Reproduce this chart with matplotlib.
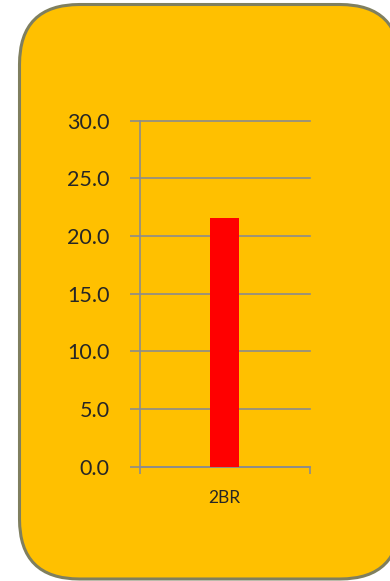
import matplotlib
matplotlib.use("Agg")
import matplotlib.pyplot as plt
from matplotlib.patches import FancyBboxPatch

categories = ["2BR"]
values = [21.6]
yticks = [0, 5, 10, 15, 20, 25, 30]

W, H, DPI = 390, 581, 100
fig = plt.figure(figsize=(W / DPI, H / DPI), dpi=DPI)
fig.patch.set_facecolor("white")

# background axes in pixel units holding the rounded card
bg = fig.add_axes([0, 0, 1, 1], zorder=-5)
bg.set_xlim(0, W)
bg.set_ylim(0, H)
bg.axis("off")
card_l, card_b, card_r, card_t = 19.5, 2.0, 400.0, 576.5
card = FancyBboxPatch(
    (card_l, card_b), card_r - card_l, card_t - card_b,
    boxstyle="round,pad=0,rounding_size=60",
    facecolor="#FFC000", edgecolor="#7F7F5F", linewidth=2.2)
bg.add_patch(card)

ax = fig.add_axes([140 / W, 1 - 466.7 / H, (309.5 - 140) / W, (466.7 - 120.7) / H], zorder=1)
ax.set_facecolor("none")

x = list(range(len(categories)))
ax.bar(x, values, width=0.171, color="#FF0000", zorder=3)

ax.set_xlim(-0.5, len(categories) - 0.5)
ax.set_ylim(0, 30)
ax.set_yticks(yticks)
ax.set_yticklabels([f"{v:.1f}" for v in yticks])

grid_color = "#8C8C8C"
ax.yaxis.grid(True, color=grid_color, linewidth=1.2, zorder=1)
ax.set_axisbelow(True)
for gl in ax.get_ygridlines():
    gl.set_clip_on(False)

for s in ("top", "right"):
    ax.spines[s].set_visible(False)
for s in ("left", "bottom"):
    ax.spines[s].set_color(grid_color)
    ax.spines[s].set_linewidth(1.2)

# category boundaries marked by downward ticks on the x axis
ax.set_xticks([-0.5, len(categories) - 0.5], minor=False)
ax.set_xticklabels([])
ax.set_xticks(x, minor=True)
ax.set_xticklabels(categories, minor=True)
ax.tick_params(axis="x", which="major", length=5, width=1.2, color=grid_color, direction="out")
ax.tick_params(axis="x", which="minor", length=0, pad=17, labelsize=12.5, labelcolor="#262626")
ax.tick_params(axis="y", length=7, width=1.2, color=grid_color, direction="out",
               pad=15, labelsize=15.5, labelcolor="#262626")

for lab in ax.get_yticklabels() + ax.get_xticklabels(minor=True):
    lab.set_family(["Lato", "DejaVu Sans"])

fig.savefig("out.png", dpi=DPI, facecolor=fig.get_facecolor())
